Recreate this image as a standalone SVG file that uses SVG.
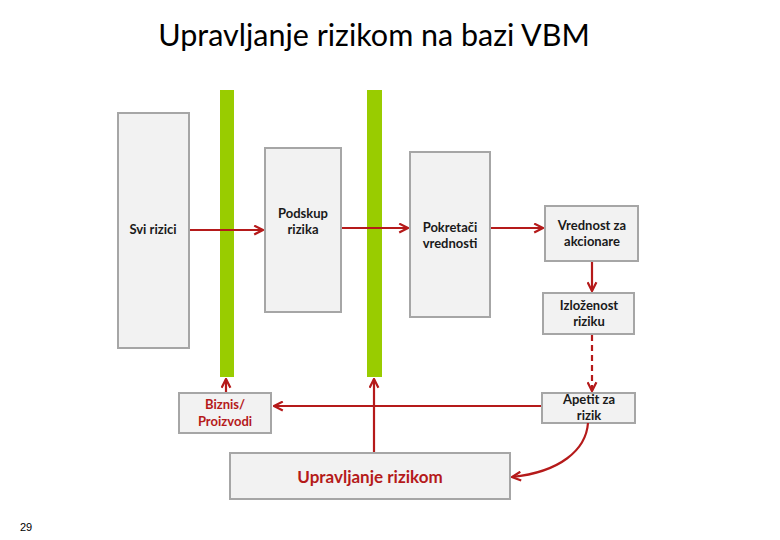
<svg xmlns="http://www.w3.org/2000/svg" width="780" height="540" viewBox="0 0 780 540">
<style>
.box{fill:#f2f2f2;stroke:#a6a6a6;stroke-width:2}
.bar{fill:#99cc00}
.t{font-family:Lato,"Open Sans","Liberation Sans",sans-serif;font-weight:bold;font-size:13px;fill:#1a1a1a;text-anchor:middle}
.r{fill:#b51a1a}
.c{fill:none;stroke:#b51a1a;stroke-width:2.2}
</style>
<defs>
<marker id="ah" viewBox="0 0 10 10" refX="9" refY="5" markerWidth="5" markerHeight="5" orient="auto" markerUnits="strokeWidth">
<path d="M1,1 L9,5 L1,9" fill="none" stroke="#b51a1a" stroke-width="2"/>
</marker>
</defs>
<rect width="780" height="540" fill="#ffffff"/>
<text x="374" y="46" font-family="Lato,'Open Sans','Liberation Sans',sans-serif" font-size="30.5" fill="#000" text-anchor="middle">Upravljanje rizikom na bazi VBM</text>

<g id="svi"><rect class="box" x="118" y="113" width="71" height="235"/><text class="t" x="153" y="234">Svi rizici</text></g>
<g id="bar1"><rect class="bar" x="220" y="90" width="14" height="287"/></g>
<g id="bar2"><rect class="bar" x="367" y="90" width="15" height="287"/></g>
<g id="podskup"><rect class="box" x="265" y="148" width="76" height="164"/><text class="t" x="303" y="218">Podskup</text><text class="t" x="303" y="234">rizika</text></g>
<g id="pokretaci"><rect class="box" x="410" y="152" width="80" height="165"/><text class="t" x="450" y="232">Pokretači</text><text class="t" x="450" y="248">vrednosti</text></g>
<g id="vrednost"><rect class="box" x="545" y="206" width="93" height="55"/><text class="t" x="592" y="230">Vrednost za</text><text class="t" x="592" y="246">akcionare</text></g>
<g id="izlozenost"><rect class="box" x="543" y="293" width="91" height="41"/><text class="t" x="589" y="310">Izloženost</text><text class="t" x="589" y="326">riziku</text></g>
<g id="apetit"><rect class="box" x="542" y="393" width="93" height="30"/><text class="t" x="589" y="404">Apetit za</text><text class="t" x="589" y="420">rizik</text></g>
<g id="biznis"><rect class="box" x="179" y="393" width="92" height="40"/><text class="t r" x="225" y="409">Biznis/</text><text class="t r" x="225" y="426">Proizvodi</text></g>
<g id="upravljanje"><rect class="box" x="230" y="453" width="280" height="46"/><text class="t r" x="370" y="483" style="font-size:17px">Upravljanje rizikom</text></g>

<g id="connectors">
<line class="c" x1="190" y1="230" x2="263" y2="230" marker-end="url(#ah)"/>
<line class="c" x1="342" y1="228" x2="408" y2="228" marker-end="url(#ah)"/>
<line class="c" x1="491" y1="228" x2="543" y2="228" marker-end="url(#ah)"/>
<line class="c" x1="592" y1="262" x2="592" y2="291" marker-end="url(#ah)"/>
<line class="c" x1="592" y1="335" x2="592" y2="391" stroke-dasharray="6,4" marker-end="url(#ah)"/>
<line class="c" x1="541" y1="406" x2="274" y2="406" marker-end="url(#ah)"/>
<line class="c" x1="226" y1="392" x2="226" y2="379" marker-end="url(#ah)"/>
<line class="c" x1="374" y1="452" x2="374" y2="379" marker-end="url(#ah)"/>
<path class="c" d="M588,423 C586,450 560,472 512,477" marker-end="url(#ah)"/>
</g>
<text x="26" y="531" font-family="'Liberation Sans',Arial,sans-serif" font-size="11" fill="#000" text-anchor="middle">29</text>
</svg>
